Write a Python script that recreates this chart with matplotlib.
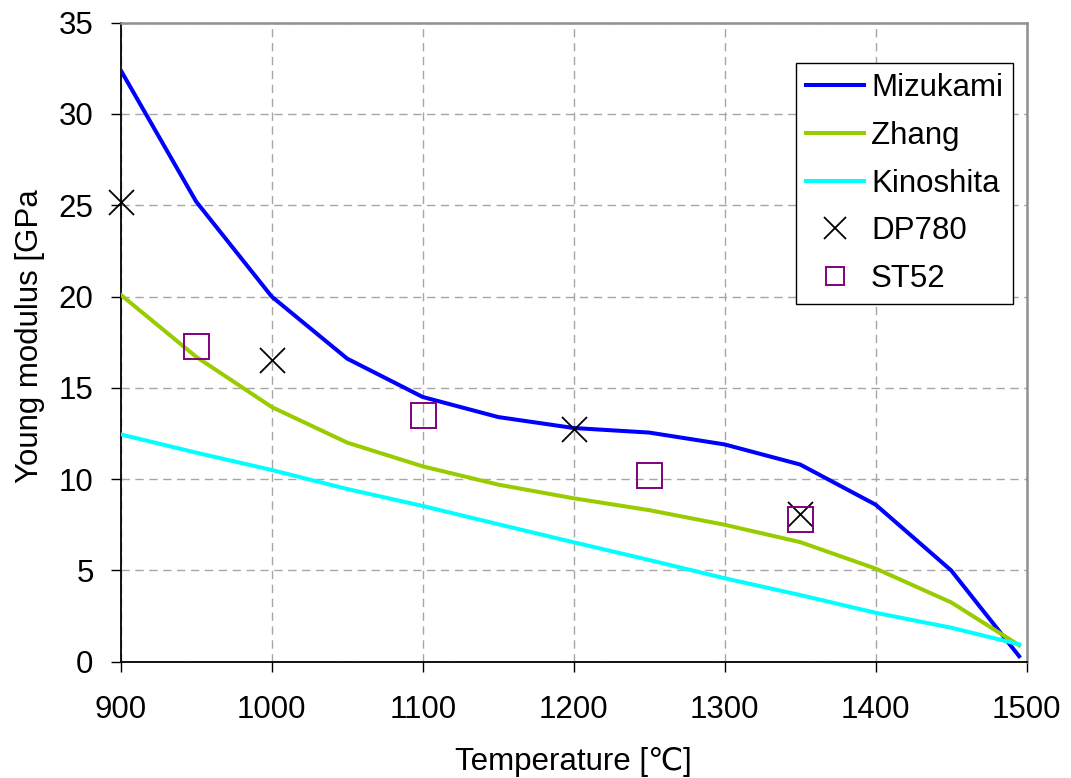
import matplotlib
matplotlib.use("Agg")
import matplotlib.pyplot as plt

plt.rcParams['font.family'] = ['Liberation Sans', 'DejaVu Sans']

temp_models = [900, 950, 1000, 1050, 1100, 1150, 1200, 1250, 1300, 1350, 1400, 1450, 1495]
mizukami = [32.4, 25.2, 20.0, 16.6, 14.5, 13.4, 12.8, 12.55, 11.9, 10.8, 8.6, 5.0, 0.3]
zhang = [20.1, 16.7, 13.95, 12.0, 10.7, 9.7, 8.95, 8.3, 7.5, 6.55, 5.1, 3.25, 0.9]
kinoshita = [12.45, 11.45, 10.5, 9.46, 8.53, 7.53, 6.54, 5.57, 4.57, 3.65, 2.68, 1.86, 0.95]

dp780_t = [900, 1000, 1200, 1350]
dp780_e = [25.2, 16.5, 12.75, 8.1]
st52_t = [950, 1100, 1250, 1350]
st52_e = [17.3, 13.5, 10.2, 7.8]

xticks = [900, 1000, 1100, 1200, 1300, 1400, 1500]
yticks = [0, 5, 10, 15, 20, 25, 30, 35]

FS = 22.5

fig = plt.figure(figsize=(10.71, 7.78), dpi=100)
ax = fig.add_axes([0.1127, 0.1495, 0.9586 - 0.1127, 0.9708 - 0.1495])

ax.plot(temp_models, mizukami, color='#0000FF', lw=2.9, label='Mizukami', zorder=3)
ax.plot(temp_models, zhang, color='#99CC00', lw=2.9, label='Zhang', zorder=3)
ax.plot(temp_models, kinoshita, color='#00FFFF', lw=2.9, label='Kinoshita', zorder=3)
ax.plot(dp780_t, dp780_e, ls='none', marker='x', ms=18, mew=1.3, color='black',
        label='DP780', zorder=4, clip_on=False)
ax.plot(st52_t, st52_e, ls='none', marker='s', ms=18, mew=1.4, mfc='none', mec='#800080',
        label='ST52', zorder=4, clip_on=False)

ax.set_xlim(900, 1500)
ax.set_ylim(0, 35)
ax.set_xticks(xticks)
ax.set_yticks(yticks)
ax.tick_params(axis='both', labelsize=FS, direction='out', length=7, width=1, color='black')
ax.tick_params(axis='x', pad=17)
ax.tick_params(axis='y', pad=12.5)

ax.grid(True, color='#A6A6A6', ls=(0, (6, 4)), lw=1.0)
ax.set_axisbelow(True)

for s in ['left', 'bottom']:
    ax.spines[s].set_color('black')
    ax.spines[s].set_linewidth(1.3)
for s in ['top', 'right']:
    ax.spines[s].set_color('#909090')
    ax.spines[s].set_linewidth(1.8)

ax.set_xlabel('Temperature [℃]', fontsize=FS, labelpad=16)
ax.set_ylabel('Young modulus [GPa', fontsize=FS)
ax.yaxis.set_label_coords(-0.0836, 0.509)

leg = ax.legend(loc='upper right', bbox_to_anchor=(0.985, 0.937), borderaxespad=0,
                fontsize=FS, frameon=True, fancybox=False, framealpha=1,
                edgecolor='black', handlelength=1.86, handletextpad=0.22,
                labelspacing=0.57, borderpad=0.32)
leg.get_frame().set_linewidth(1.0)
hs = leg.legend_handles
hs[3].set_markersize(16)
hs[4].set_markersize(13.5)

fig.savefig('out.png', dpi=100)
